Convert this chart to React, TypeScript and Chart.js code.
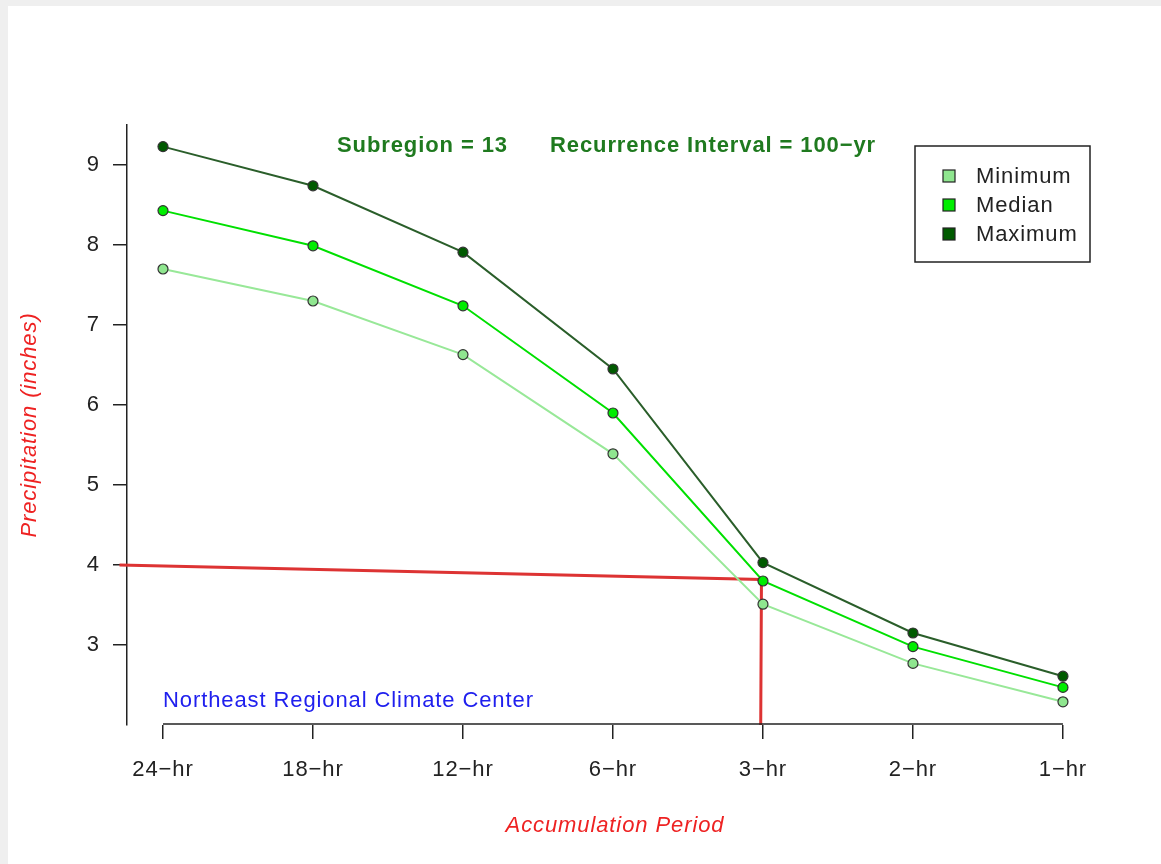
import { useEffect, useRef } from "react";
import { Chart, registerables } from "chart.js";

Chart.register(...registerables);

const periods = ["24−hr", "18−hr", "12−hr", "6−hr", "3−hr", "2−hr", "1−hr"];
const minimum = [7.7, 7.3, 6.63, 5.39, 3.51, 2.77, 2.29];
const median = [8.43, 7.99, 7.24, 5.9, 3.8, 2.98, 2.47];
const maximum = [9.23, 8.74, 7.91, 6.45, 4.03, 3.15, 2.61];
const yTicks = [3, 4, 5, 6, 7, 8, 9];
// hand-drawn red read-off line (x in period index units)
const readX = [-0.29, 3.99, 3.985];
const readY = [4.0, 3.82, 2.0];

const FONT = "'Liberation Sans', Arial, Helvetica, sans-serif";
const INK = "#222";
const SPACING = "0.9px";

const toPts = (vals: number[]) => vals.map((y, x) => ({ x, y }));

const overlay = {
  id: "overlay",
  beforeDraw(chart: any) {
    // the original's type is set a bit wider than Liberation Sans
    chart.ctx.letterSpacing = SPACING;
  },
  afterDatasetsDraw(chart: any) {
    const { ctx, chartArea, scales } = chart;
    const xs = scales.x;
    ctx.save();
    ctx.letterSpacing = SPACING;
    // x axis line only spans first to last period, like R's axis()
    ctx.strokeStyle = INK;
    ctx.lineWidth = 1.5;
    ctx.beginPath();
    ctx.moveTo(xs.getPixelForValue(0), chartArea.bottom - 1);
    ctx.lineTo(xs.getPixelForValue(periods.length - 1), chartArea.bottom - 1);
    ctx.stroke();

    // header
    ctx.fillStyle = "#1f7a1f";
    ctx.font = `bold 22px ${FONT}`;
    ctx.textBaseline = "middle";
    ctx.textAlign = "left";
    ctx.fillText("Subregion = 13", 337, chartArea.top + 21);
    ctx.fillText("Recurrence Interval = 100−yr", 550, chartArea.top + 21);

    // credit
    ctx.fillStyle = "#2020ee";
    ctx.font = `22px ${FONT}`;
    ctx.fillText("Northeast Regional Climate Center", xs.getPixelForValue(0), 701);

    // legend box
    const lx = 915, ly = 146, lw = 175, lh = 116;
    ctx.fillStyle = "#fff";
    ctx.fillRect(lx, ly, lw, lh);
    ctx.strokeStyle = INK;
    ctx.lineWidth = 1.5;
    ctx.strokeRect(lx, ly, lw, lh);
    ctx.font = `22px ${FONT}`;
    chart.data.datasets.slice(0, 3).forEach((ds: any, i: number) => {
      const cy = ly + 30 + i * 29;
      ctx.fillStyle = ds.pointBackgroundColor;
      ctx.fillRect(943, cy - 6, 12, 12);
      ctx.lineWidth = 1.2;
      ctx.strokeStyle = INK;
      ctx.strokeRect(943, cy - 6, 12, 12);
      ctx.fillStyle = INK;
      ctx.fillText(ds.label, 976, cy + 1);
    });
    ctx.restore();
  },
};

const App = () => {
  const canvasRef = useRef<HTMLCanvasElement>(null);

  useEffect(() => {
    const series = (label: string, vals: number[], line: string, fill: string, order: number) => ({
      label,
      data: toPts(vals),
      borderColor: line,
      borderWidth: 2,
      pointBackgroundColor: fill,
      pointBorderColor: "#333",
      pointBorderWidth: 1.2,
      pointRadius: 5,
      order,
    });

    const config: any = {
      type: "line",
      data: {
        datasets: [
          series("Minimum", minimum, "#98e898", "#8fe68f", 3),
          series("Median", median, "#00e000", "#00ee00", 2),
          series("Maximum", maximum, "#2a5e2a", "#005a00", 1),
          {
            label: "read",
            data: readX.map((x, i) => ({ x, y: readY[i] })),
            borderColor: "#dd3333",
            borderWidth: 3,
            pointRadius: 0,
            clip: false,
            order: 10,
          },
        ],
      },
      options: {
        animation: false,
        responsive: true,
        maintainAspectRatio: false,
        layout: { padding: { top: 125, right: 58, left: 0, bottom: 0 } },
        plugins: { legend: { display: false }, tooltip: { enabled: false } },
        scales: {
          x: {
            type: "linear",
            min: -0.24,
            max: 6.267,
            afterBuildTicks: (s: any) => {
              s.ticks = periods.map((_, i) => ({ value: i }));
            },
            afterFit: (s: any) => {
              s.height = 139;
            },
            ticks: {
              callback: (v: number) => periods[v],
              font: { family: FONT, size: 22 },
              color: INK,
              padding: 18,
              maxRotation: 0,
              autoSkip: false,
            },
            grid: { drawOnChartArea: false, color: INK, lineWidth: 1.5, tickLength: 14 },
            border: { display: false },
            title: {
              display: true,
              text: "Accumulation Period",
              color: "#ee2222",
              font: { family: FONT, size: 22, style: "italic" },
              padding: { top: 0, bottom: 25 },
            },
          },
          y: {
            min: 2,
            max: 9.5,
            afterBuildTicks: (s: any) => {
              s.ticks = yTicks.map((value) => ({ value }));
            },
            afterFit: (s: any) => {
              s.width = 127;
            },
            ticks: {
              font: { family: FONT, size: 22 },
              color: INK,
              padding: 13,
            },
            grid: { drawOnChartArea: false, color: INK, lineWidth: 1.5, tickLength: 14 },
            border: { display: true, color: INK, width: 1.5 },
            title: {
              display: true,
              text: "Precipitation (inches)",
              color: "#ee2222",
              font: { family: FONT, size: 22, style: "italic" },
              padding: { top: 17, bottom: 0 },
            },
          },
        },
      },
      plugins: [overlay],
    };

    const chart = new Chart(canvasRef.current as HTMLCanvasElement, config);
    return () => {
      chart.destroy();
    };
  }, []);

  return (
    <div style={{ position: "fixed", left: 0, top: 0, width: 1161, height: 864, background: "#efefef" }}>
      <div style={{ position: "absolute", left: 8, top: 6, right: 0, bottom: 0, background: "#fff" }} />
      <div style={{ position: "absolute", left: 0, top: 0, width: 1161, height: 864 }}>
        <canvas ref={canvasRef} />
      </div>
    </div>
  );
};

export default App;
